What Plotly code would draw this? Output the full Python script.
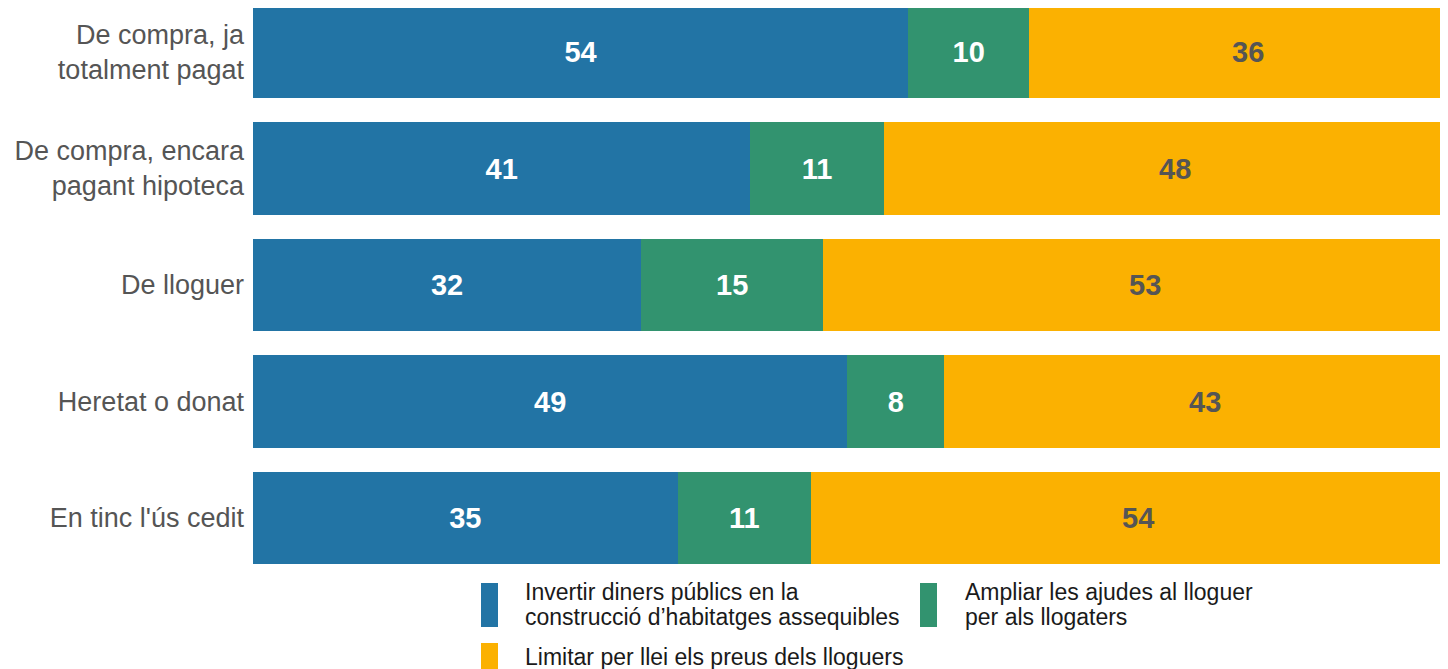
import plotly.graph_objects as go

categories = ["De compra, ja<br>totalment pagat", "De compra, encara<br>pagant hipoteca",
              "De lloguer", "Heretat o donat", "En tinc l'ús cedit"]
series_names = ["Invertir diners públics en la<br>construcció d’habitatges assequibles",
                "Ampliar les ajudes al lloguer<br>per als llogaters",
                "Limitar per llei els preus dels lloguers"]
invertir = [54, 41, 32, 49, 35]
ampliar = [10, 11, 15, 8, 11]
limitar = [36, 48, 53, 43, 54]

colors = ["#2274A5", "#32936F", "#FBB101"]
label_colors = ["white", "white", "#555555"]
FONT = "Liberation Sans, Arial, sans-serif"

OFF = 8  # page body margin
W, H = 1448 - OFF, 669 - OFF
L, R, T, B = 253 - OFF, 0, 0, 99
PW, PH = W - L - R, H - T - B

series_vals = [invertir, ampliar, limitar]
fig = go.Figure()
for i, (name, vals, c, lc) in enumerate(zip(series_names, series_vals, colors, label_colors)):
    last = i == len(series_vals) - 1
    fig.add_trace(go.Bar(
        y=categories, x=vals, name=name, orientation="h",
        marker=dict(color=c, line=dict(width=0)),
        text=vals, texttemplate="%{x}",
        textposition="none" if last else "inside",
        insidetextanchor="middle",
        textfont=dict(color=lc, size=29, family=FONT, weight="bold"),
        showlegend=False, hoverinfo="skip",
    ))

annotations = []
# labels for the last segment (its bar runs past the page edge, so place at its data centre)
for cat, a, b, v in zip(categories, invertir, ampliar, limitar):
    annotations.append(dict(xref="x", yref="y", x=a + b + v / 2, y=cat, text=str(v),
                            showarrow=False, xanchor="center", yanchor="middle",
                            font=dict(size=29, color=label_colors[2], family=FONT, weight="bold")))

def px_x(p):
    return (p - OFF - L) / PW

def px_y(p):
    return (PH - (p - OFF)) / PH

# manual legend (screen pixel positions)
legend_items = [
    (0, 481, 583, 627, 525, [592, 617]),
    (1, 920, 583, 627, 965, [592, 617]),
    (2, 481, 643, 690, 525, [657]),
]
shapes = []
for idx, sx, sy0, sy1, tx, ty in legend_items:
    shapes.append(dict(type="rect", xref="paper", yref="paper",
                       x0=px_x(sx), x1=px_x(sx + 17), y0=px_y(sy1), y1=px_y(sy0),
                       fillcolor=colors[idx], line=dict(width=0), layer="above"))
    lines = series_names[idx].split("<br>")
    for line, yy in zip(lines, ty):
        annotations.append(dict(xref="paper", yref="paper", x=px_x(tx), y=px_y(yy),
                                text=line, showarrow=False, xanchor="left", yanchor="middle",
                                xshift=-2,
                                font=dict(size=23, color="#1a1a1a", family=FONT)))

# y range: category centres at screen y=52 + 116.5*i
unit = 116.5
c0 = 52 - OFF
y_top = -c0 / unit
y_bot = (PH - c0) / unit

# x scale: 12.13 px per percentage point; the 100% end lies past the page edge
px_per_pct = 12.13
x_max = PW / px_per_pct

fig.update_layout(
    barmode="stack", bargap=0.21,
    width=W, height=H,
    margin=dict(l=L, r=R, t=T, b=B, autoexpand=False),
    paper_bgcolor="white", plot_bgcolor="white",
    font=dict(family=FONT),
    xaxis=dict(range=[0, x_max], visible=False, fixedrange=True),
    yaxis=dict(range=[y_bot, y_top], showgrid=False, zeroline=False, showline=False,
               ticks="", ticklabelstandoff=8,
               tickfont=dict(size=27, color="#555555", family=FONT)),
    shapes=shapes, annotations=annotations,
)

fig.write_html("out.html")
